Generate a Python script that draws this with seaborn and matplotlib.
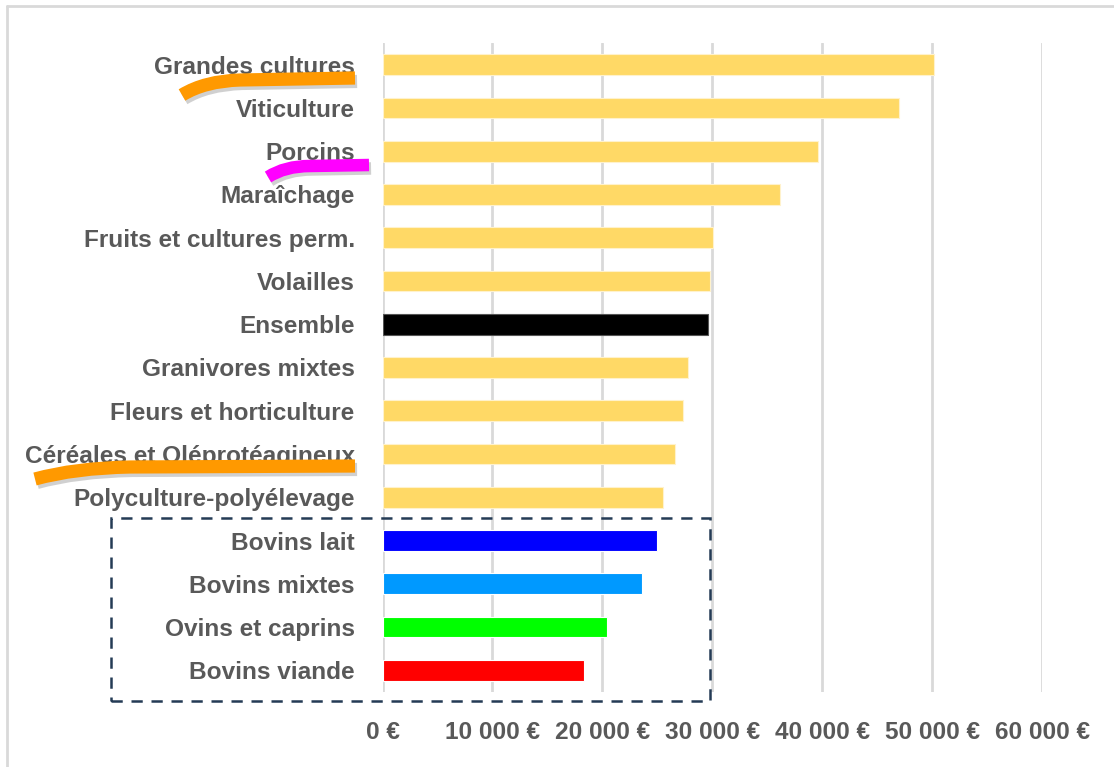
import matplotlib
matplotlib.use("Agg")
import matplotlib.pyplot as plt
import matplotlib.patheffects as pe
from matplotlib.lines import Line2D
from matplotlib.patches import Rectangle, PathPatch
from matplotlib.path import Path
import seaborn as sns
import pandas as pd

categories = ["Grandes cultures", "Viticulture", "Porcins", "Maraîchage",
              "Fruits et cultures perm.", "Volailles", "Ensemble",
              "Granivores mixtes", "Fleurs et horticulture",
              "Céréales et Oléprotéagineux", "Polyculture-polyélevage",
              "Bovins lait", "Bovins mixtes", "Ovins et caprins", "Bovins viande"]
values = [50200, 47000, 39650, 36150, 30050, 29750, 29650, 27750, 27300,
          26650, 25550, 25000, 23600, 20400, 18350]
bar_colors = ["#FFD966"] * 6 + ["#000000"] + ["#FFD966"] * 4 + \
             ["#0000FF", "#0099FF", "#00FF00", "#FF0000"]
x_ticks = [0, 10000, 20000, 30000, 40000, 50000, 60000]
x_tick_labels = ["0 €", "10 000 €", "20 000 €", "30 000 €", "40 000 €", "50 000 €", "60 000 €"]

df = pd.DataFrame({"cat": categories, "val": values})

sns.set_style("white")
plt.rcParams["font.family"] = ["Liberation Sans Narrow", "Liberation Sans", "DejaVu Sans"]

W, H = 1114, 767
fig = plt.figure(figsize=(W / 100, H / 100), dpi=100)
ax = fig.add_axes([382.5 / W, 1 - 692 / H, (1042 - 382.5) / W, (692 - 43) / H])

sns.barplot(data=df, x="val", y="cat", hue="cat", palette=bar_colors,
            legend=False, orient="h", width=0.48, saturation=1, ax=ax, zorder=3)
for p, c in zip(ax.patches, bar_colors):
    p.set_edgecolor("#FFF2CC" if c == "#FFD966" else "#555555" if c == "#000000" else "#FFFFFF")
    p.set_linewidth(0.8)

ax.set_xlim(0, 60000)
ax.set_ylim(len(categories) - 0.5, -0.5)
ax.set_xticks(x_ticks)
ax.set_xticklabels(x_tick_labels)
ax.set_xlabel("")
ax.set_ylabel("")
for s in ax.spines.values():
    s.set_visible(False)
ax.grid(axis="x", color="#D9D9D9", linewidth=2, zorder=0)
ax.grid(axis="y", visible=False)
ax.tick_params(axis="both", length=0, colors="#595959")
ax.tick_params(axis="y", pad=20, labelsize=17.6)
ax.tick_params(axis="x", pad=21, labelsize=17.6)
for t in ax.get_xticklabels() + ax.get_yticklabels():
    t.set_fontweight("bold")
    t.set_color("#595959")


def px(x, y):
    return (x / W, 1 - y / H)


# figure frame (left and top edges)
fig.add_artist(Line2D([7 / W, 7 / W], [0, 1 - 6 / H], transform=fig.transFigure,
                      color="#D9D9D9", linewidth=2))
fig.add_artist(Line2D([7 / W, 1], [1 - 6 / H, 1 - 6 / H], transform=fig.transFigure,
                      color="#D9D9D9", linewidth=2))

# dashed box around the cattle group
x0, y0 = px(111, 701)
x1, y1 = px(710, 518)
fig.add_artist(Rectangle((x0, y0), x1 - x0, y1 - y0, transform=fig.transFigure,
                         fill=False, edgecolor="#243B55", linewidth=1.8,
                         linestyle=(0, (4.5, 3.5)), zorder=5))


def stroke(p0, c, p1, end, color, lw):
    verts = [px(*p0), px(*c), px(*p1), px(*end)]
    codes = [Path.MOVETO, Path.CURVE3, Path.CURVE3, Path.LINETO]
    patch = PathPatch(Path(verts, codes), transform=fig.transFigure, fill=False,
                      edgecolor=color, linewidth=lw, capstyle="butt", joinstyle="round",
                      path_effects=[pe.SimpleLineShadow(offset=(1.5, -2.5),
                                                        shadow_color="#666666", alpha=0.3),
                                    pe.Normal()], zorder=6)
    fig.add_artist(patch)


stroke((182, 95), (205, 81), (240, 80), (355, 78), "#FF9900", 9.5)
stroke((268, 177), (285, 166), (310, 166), (369, 165), "#FF00FF", 9)
stroke((35, 479), (75, 468), (130, 467), (355, 466), "#FF9900", 9.5)

fig.savefig("out.png", dpi=100)
